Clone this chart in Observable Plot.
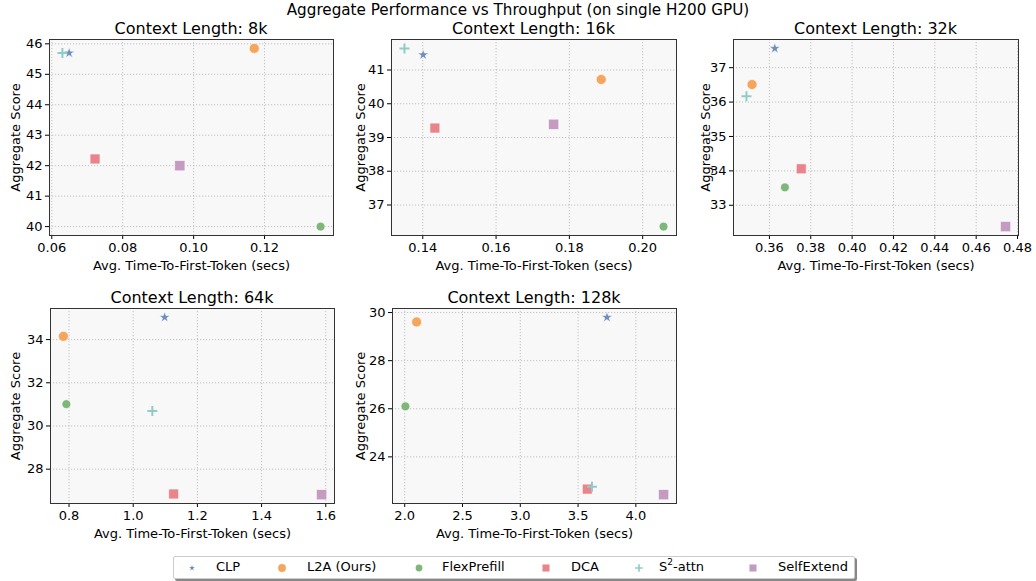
<!DOCTYPE html>
<html>
<head>
<meta charset="utf-8">
<script src="https://cdn.jsdelivr.net/npm/d3@7"></script>
<script src="https://cdn.jsdelivr.net/npm/@observablehq/plot@0.6"></script>
<style>
  html, body { margin: 0; padding: 0; background: #fff; }
  body { width: 1036px; height: 581px; position: relative; overflow: hidden; font-family: "DejaVu Sans", sans-serif; }
  .title { position: absolute; left: 0; width: 1036px; top: 2px; text-align: center; font-size: 15.2px; line-height: 16px; color: #000; }
  .subtitle { position: absolute; text-align: center; font-size: 16px; line-height: 16px; color: #000; white-space: nowrap; }
  .legend { position: absolute; left: 173px; top: 556px; width: 680px; height: 21px; border: 1px solid #ccc; border-radius: 2px; background: #fff; box-shadow: 2px 2px 0 #888; }
  .legend .lab { position: absolute; top: 2px; font-size: 13px; color: #000; white-space: nowrap; }
  .legend svg { position: absolute; overflow: visible; }
</style>
</head>
<body>
<div class="title">Aggregate Performance vs Throughput (on single H200 GPU)</div>
<div id="root"></div>
<script>
// ---- data ----
const methods = ["CLP", "L2A (Ours)", "FlexPrefill", "DCA", "S2-attn", "SelfExtend"];
const colors = ["#6f8fbb", "#f5a55c", "#7fb77b", "#e9848b", "#92cac7", "#c59bbf"];

const ttft8k  = [0.0649, 0.1171, 0.1358, 0.0722, 0.0630, 0.0961];
const score8k = [45.70, 45.85, 40.00, 42.22, 45.70, 42.00];

const ttft16k  = [0.1401, 0.1887, 0.2057, 0.1433, 0.1350, 0.1757];
const score16k = [41.45, 40.72, 36.36, 39.28, 41.64, 39.39];

const ttft32k  = [0.3626, 0.3516, 0.3675, 0.3754, 0.3489, 0.4742];
const score32k = [37.56, 36.51, 33.52, 34.06, 36.17, 32.38];

const ttft64k  = [1.098, 0.7825, 0.7917, 1.126, 1.0596, 1.587];
const score64k = [35.03, 34.15, 31.01, 26.85, 30.69, 26.82];

const ttft128k  = [3.75, 2.103, 2.006, 3.58, 3.62, 4.24];
const score128k = [29.80, 29.61, 26.10, 22.66, 22.76, 22.43];

const contexts = ["8k", "16k", "32k", "64k", "128k"];
const xTicks = [
  [0.06, 0.08, 0.10, 0.12],
  [0.14, 0.16, 0.18, 0.20],
  [0.36, 0.38, 0.40, 0.42, 0.44, 0.46, 0.48],
  [0.8, 1.0, 1.2, 1.4, 1.6],
  [2.0, 2.5, 3.0, 3.5, 4.0]
];
const yTicks = [
  [40, 41, 42, 43, 44, 45, 46],
  [37, 38, 39, 40, 41],
  [33, 34, 35, 36, 37],
  [28, 30, 32, 34],
  [24, 26, 28, 30]
];
const xDecimals = [2, 2, 2, 1, 1];

// ---- layout (styling only) ----
const layout = [
  {left: 0,   top: 30,  width: 345, height: 250, mL: 49, mR: 12, mT: 9, mB: 45},
  {left: 345, top: 30,  width: 345, height: 250, mL: 46, mR: 14, mT: 9, mB: 45},
  {left: 690, top: 30,  width: 346, height: 250, mL: 43, mR: 18, mT: 9, mB: 45},
  {left: 0,   top: 300, width: 345, height: 250, mL: 50, mR: 11, mT: 8, mB: 47},
  {left: 345, top: 300, width: 345, height: 250, mL: 47, mR: 14, mT: 8, mB: 47}
];
const symbols = ["star", "circle", "circle", "square", "plus", "square"];
const radii   = [3.5, 5.0, 4.4, 5.6, 3.3, 5.8];

const allX = [ttft8k, ttft16k, ttft32k, ttft64k, ttft128k];
const allY = [score8k, score16k, score32k, score64k, score128k];

function padDomain(vals) {
  const [a, b] = d3.extent(vals);
  const p = (b - a) * 0.05;
  return [a - p, b + p];
}

const root = document.getElementById("root");

contexts.forEach((ctx, i) => {
  const L = layout[i];
  const rows = methods.map((m, j) => ({method: m, idx: j, x: allX[i][j], y: allY[i][j]}));
  const fmt = d3.format("." + xDecimals[i] + "f");
  const marks = [
    Plot.frame({fill: "#f8f8f8", stroke: null}),
    Plot.gridX(xTicks[i], {stroke: "#b5b5b5", strokeOpacity: 1, strokeDasharray: "1.2,1.8", strokeWidth: 0.8}),
    Plot.gridY(yTicks[i], {stroke: "#b5b5b5", strokeOpacity: 1, strokeDasharray: "1.2,1.8", strokeWidth: 0.8}),
    Plot.axisX({ticks: xTicks[i], tickFormat: fmt, tickSize: 4, tickPadding: 3,
      label: "Avg. Time-To-First-Token (secs)", labelAnchor: "center", labelArrow: "none", labelOffset: 34}),
    Plot.axisY({ticks: yTicks[i], tickFormat: d3.format("d"), tickSize: 4, tickPadding: 3,
      label: "Aggregate Score", labelAnchor: "center", labelArrow: "none", labelOffset: L.mL - 10})
  ];
  methods.forEach((m, j) => {
    const data = rows.filter(r => r.idx === j);
    if (symbols[j] === "plus") {
      marks.push(Plot.dot(data, {x: "x", y: "y", symbol: "plus", r: radii[j], stroke: colors[j], strokeWidth: 2}));
    } else {
      marks.push(Plot.dot(data, {x: "x", y: "y", symbol: symbols[j], r: radii[j], fill: colors[j], stroke: "white", strokeWidth: 0.6}));
    }
  });
  marks.push(Plot.frame({stroke: "#333", strokeWidth: 1}));

  const chart = Plot.plot({
    width: L.width, height: L.height,
    marginLeft: L.mL, marginRight: L.mR, marginTop: L.mT, marginBottom: L.mB,
    x: {domain: padDomain(allX[i])},
    y: {domain: padDomain(allY[i])},
    style: {fontFamily: "DejaVu Sans", fontSize: "13px", background: "transparent", color: "#000", overflow: "visible"},
    marks
  });
  chart.style.position = "absolute";
  chart.style.left = L.left + "px";
  chart.style.top = L.top + "px";
  root.appendChild(chart);

  const t = document.createElement("div");
  t.className = "subtitle";
  const fl = L.left + L.mL, fr = L.left + L.width - L.mR;
  t.style.left = fl + "px";
  t.style.width = (fr - fl) + "px";
  t.style.top = (L.top + L.mT - 18) + "px";
  t.textContent = "Context Length: " + ctx;
  root.appendChild(t);
});

// ---- legend ----
const legend = document.createElement("div");
legend.className = "legend";
root.appendChild(legend);
const legMarkX = [18, 108, 245, 372, 465, 579];
const legLabX  = [42, 133, 268, 397, 485, 604];
const legR     = [1.8, 3.9, 3.4, 4.0, 2.6, 4.0];
methods.forEach((m, j) => {
  const s = d3.create("svg").attr("width", 1).attr("height", 1)
    .style("left", legMarkX[j] + "px").style("top", "11px");
  const sym = {star: d3.symbolStar, circle: d3.symbolCircle, square: d3.symbolSquare, plus: d3.symbolPlus}[symbols[j]];
  const p = s.append("path").attr("d", d3.symbol(sym, Math.PI * legR[j] * legR[j])());
  if (symbols[j] === "plus") p.attr("fill", "none").attr("stroke", colors[j]).attr("stroke-width", 1.6);
  else p.attr("fill", colors[j]);
  legend.appendChild(s.node());
  const lab = document.createElement("div");
  lab.className = "lab";
  lab.style.left = legLabX[j] + "px";
  if (m === "S2-attn") lab.innerHTML = "S<sup style='font-size:9px;vertical-align:6px;line-height:0'>2</sup>-attn";
  else lab.textContent = m;
  legend.appendChild(lab);
});
</script>
</body>
</html>
